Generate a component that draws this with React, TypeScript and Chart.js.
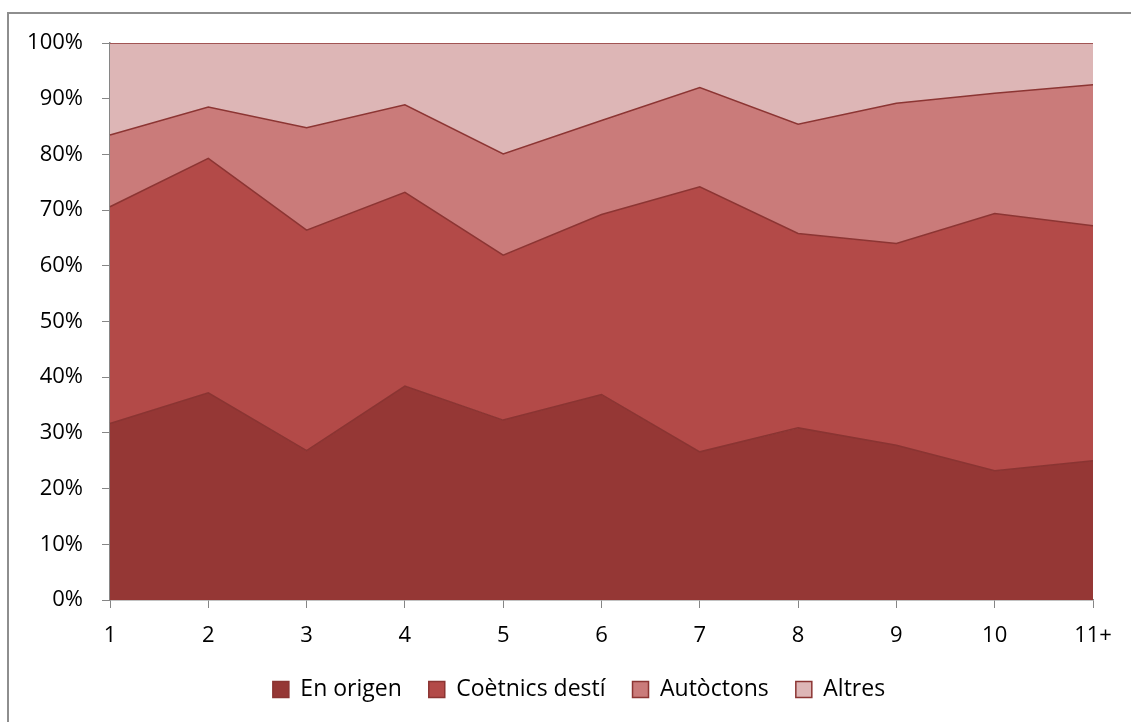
import React, { useEffect, useRef } from "react";
import { Chart, registerables } from "chart.js";

Chart.register(...registerables);

const categories = ["1", "2", "3", "4", "5", "6", "7", "8", "9", "10", "11+"];
const seriesNames = ["En origen", "Coètnics destí", "Autòctons", "Altres"];
const enOrigen = [31.7, 37.2, 26.8, 38.4, 32.3, 36.9, 26.6, 30.9, 27.8, 23.2, 25.0];
const coetnicsDesti = [38.9, 42.1, 39.6, 34.8, 29.6, 32.3, 47.6, 34.9, 36.2, 46.2, 42.2];
const autoctons = [12.9, 9.2, 18.4, 15.7, 18.2, 16.9, 17.8, 19.6, 25.2, 21.6, 25.3];
const altres = [16.5, 11.5, 15.2, 11.1, 19.9, 13.9, 8.0, 14.6, 10.8, 9.0, 7.5];
const yStep = 10;
const yMax = 100;

const fills = ["#953735", "#B34A48", "#CA7B7A", "#DDB6B6"];
const lines = ["#8A3432", "#8C3533", "#8C3533", "#8C3533"];

const legendShift = {
  id: "legendShift",
  afterLayout(chart: any) {
    if (chart.legend) {
      chart.legend.left += 65;
    }
  },
};

export default function App() {
  const ref = useRef<HTMLCanvasElement | null>(null);

  useEffect(() => {
    if (!ref.current) return;
    const values = [enOrigen, coetnicsDesti, autoctons, altres];
    const font = "'Open Sans', sans-serif";
    const chart = new Chart(ref.current, {
      type: "line",
      data: {
        labels: categories,
        datasets: values.map((v, i) => ({
          label: seriesNames[i],
          data: v,
          backgroundColor: fills[i],
          borderColor: lines[i],
          borderWidth: 1.5,
          pointRadius: 0,
          tension: 0,
          fill: i === 0 ? "origin" : "-1",
        })),
      },
      plugins: [legendShift],
      options: {
        animation: false,
        responsive: false,
        maintainAspectRatio: false,
        layout: { padding: { left: 0, top: 43, right: 38, bottom: 11 } },
        plugins: {
          tooltip: { enabled: false },
          legend: {
            position: "bottom",
            labels: {
              boxWidth: 16,
              boxHeight: 16,
              padding: 27,
              color: "#000",
              font: { family: font, size: 23 },
            },
          },
        },
        scales: {
          x: {
            type: "category",
            offset: false,
            afterFit: (s: any) => {
              s.height = 51;
            },
            grid: {
              display: true,
              drawOnChartArea: false,
              drawTicks: true,
              tickLength: 8,
              color: "#868686",
              offset: false,
            },
            border: { display: true, color: "#868686", width: 1.5 },
            ticks: {
              color: "#000",
              padding: 15,
              maxRotation: 0,
              autoSkip: false,
              font: { family: font, size: 22 },
            },
          },
          y: {
            stacked: true,
            min: 0,
            max: yMax,
            afterFit: (s: any) => {
              s.width = 110;
            },
            grid: {
              display: true,
              drawOnChartArea: false,
              drawTicks: true,
              tickLength: 8,
              color: "#868686",
            },
            border: { display: true, color: "#868686", width: 1.5 },
            ticks: {
              stepSize: yStep,
              color: "#000",
              padding: 19,
              font: { family: font, size: 22 },
              callback: (v: any) => v + "%",
            },
          },
        },
      },
    });
    return () => chart.destroy();
  }, []);

  return (
    <div
      style={{
        position: "fixed",
        left: 0,
        top: 0,
        width: 1131,
        height: 722,
        background: "#fff",
        overflow: "hidden",
      }}
    >
      <div
        style={{
          position: "absolute",
          left: 7,
          top: 12,
          width: 1300,
          height: 900,
          borderTop: "2px solid #8e8e8e",
          borderLeft: "2px solid #8e8e8e",
        }}
      />
      <canvas
        ref={ref}
        width={1131}
        height={722}
        style={{ position: "absolute", left: 0, top: 0, width: 1131, height: 722 }}
      />
    </div>
  );
}
